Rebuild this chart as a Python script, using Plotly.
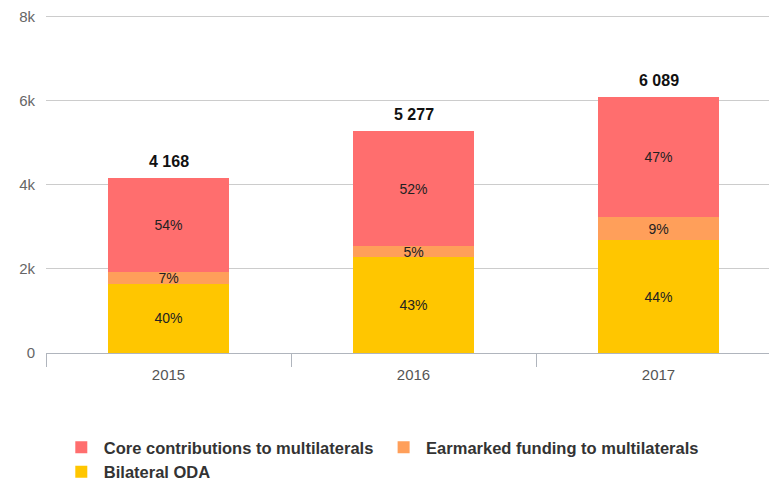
import plotly.graph_objects as go

years = ["2015", "2016", "2017"]
bilateral = [1650, 2269, 2679]
earmarked = [275, 264, 548]
core = [2243, 2744, 2862]
totals = [4168, 5277, 6089]
series_names = ["Bilateral ODA", "Earmarked funding to multilaterals", "Core contributions to multilaterals"]
colors = ["#FFC600", "#FF9F5A", "#FF6E6E"]
y_tickvals = [0, 2000, 4000, 6000, 8000]
y_ticktext = ["0", "2k", "4k", "6k", "8k"]

font_family = "Liberation Sans, Arial, sans-serif"

fig = go.Figure()
for name, vals, col in zip(series_names, [bilateral, earmarked, core], colors):
    pct = [f"{round(100 * v / t)}%" for v, t in zip(vals, totals)]
    fig.add_trace(go.Bar(
        x=years, y=vals, name=name,
        marker=dict(color=col, line=dict(width=0)),
        text=pct, textposition="inside", insidetextanchor="middle",
        textangle=0, constraintext="none",
        textfont=dict(size=14, color="#222222", family=font_family),
        width=0.49,
    ))

for i, t in enumerate(totals):
    fig.add_annotation(
        x=i, y=t, xref="x", yref="y",
        text=f"<b>{t:,}</b>".replace(",", " "),
        showarrow=False, yanchor="bottom", yshift=3,
        font=dict(size=16, color="#111111", family=font_family),
        bgcolor="white", borderpad=4,
    )

fig.update_layout(
    barmode="stack",
    width=769, height=481,
    margin=dict(l=46, r=0, t=15, b=128, autoexpand=False),
    paper_bgcolor="white", plot_bgcolor="white",
    font=dict(family=font_family),
    uniformtext=dict(minsize=14, mode="show"),
    xaxis=dict(
        type="category", range=[-0.5, 2.451],
        showline=True, linecolor="#B0B5BD", linewidth=1,
        ticks="outside", tickson="boundaries", ticklen=13, tickcolor="#B0B5BD",
        tickfont=dict(size=15, color="#555555"),
        ticklabelstandoff=8,
        showgrid=False,
    ),
    yaxis=dict(
        range=[0, 8030], tickvals=y_tickvals, ticktext=y_ticktext,
        showgrid=True, gridcolor="#CCCCCC", gridwidth=1,
        zeroline=False, showline=False,
        tickfont=dict(size=15, color="#666666"),
        ticklabelstandoff=10,
    ),
    legend=dict(
        orientation="h", traceorder="reversed",
        x=0.0177, xanchor="left", yref="container", y=0.106, yanchor="top",
        font=dict(size=16.5, color="#333333", weight="bold"),
        itemwidth=35,
    ),
    showlegend=True,
)

fig.write_html(
    "out.html",
    config={"displayModeBar": False},
    post_script="document.body.style.margin='0px';document.body.style.overflow='hidden';",
)
